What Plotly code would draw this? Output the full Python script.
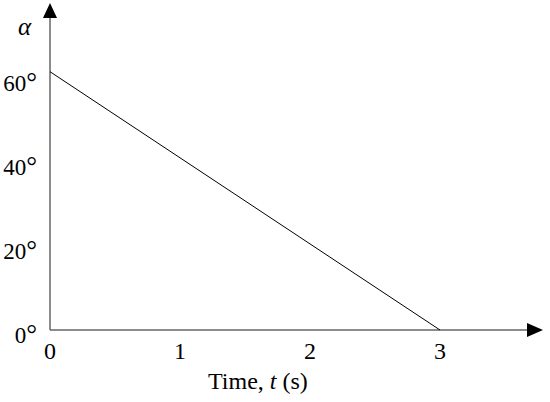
import plotly.graph_objects as go

# data
time_s = [0, 3]
alpha_deg = [61.5, 0]
x_tickvals = [0, 1, 2, 3]
x_ticktext = ["0", "1", "2", "3"]
y_tickvals = [0, 20, 40, 60]
DEG = "<span style='font-size:27px'>°</span>"
y_ticktext = ["0" + DEG, "20" + DEG, "40" + DEG, "60" + DEG]

W, H = 550, 402
L, R, T, B = 40, 2, 0, 62
pxx = 130.0   # pixels per second
pxy = 4.2     # pixels per degree
X0, Y0 = 50, 330  # pixel position of origin
xr = [(L - X0) / pxx, (W - R - X0) / pxx]
yr = [(Y0 - (H - B)) / pxy, (Y0 - T) / pxy]

FONT = "Liberation Serif"
axis_col = "#666666"

fig = go.Figure()
fig.add_trace(go.Scatter(x=time_s, y=alpha_deg, mode="lines",
                         line=dict(color="black", width=1), hoverinfo="skip",
                         showlegend=False))

# axes with arrows (decorations)
y_tip = (Y0 - 3) / pxy
y_base = (Y0 - 18) / pxy
x_tip = (543 - X0) / pxx
x_base = (527 - X0) / pxx
hw_x = 7 / pxx
hw_y = 7 / pxy
shapes = [
    dict(type="line", xref="x", yref="y", x0=0, y0=0, x1=0, y1=y_base,
         line=dict(color=axis_col, width=1.5), layer="below"),
    dict(type="line", xref="x", yref="y", x0=0, y0=0, x1=x_base, y1=0,
         line=dict(color=axis_col, width=1.5), layer="below"),
    dict(type="path", xref="x", yref="y",
         path=f"M {-hw_x} {y_base} L {hw_x} {y_base} L 0 {y_tip} Z",
         fillcolor="black", line=dict(color="black", width=0)),
    dict(type="path", xref="x", yref="y",
         path=f"M {x_base} {-hw_y} L {x_base} {hw_y} L {x_tip} 0 Z",
         fillcolor="black", line=dict(color="black", width=0)),
]

PW = W - L - R
PH = H - T - B

fig.update_layout(
    width=W, height=H,
    margin=dict(l=L, r=R, t=T, b=B, autoexpand=False),
    paper_bgcolor="white", plot_bgcolor="white",
    font=dict(family=FONT, size=23, color="black"),
    shapes=shapes,
    xaxis=dict(range=xr, showgrid=False, zeroline=False, showline=False,
               automargin=False, fixedrange=True,
               tickvals=x_tickvals, ticktext=x_ticktext, ticks="",
               ticklabelstandoff=-6, tickfont=dict(family=FONT, size=24)),
    yaxis=dict(range=yr, showgrid=False, zeroline=False, showline=False,
               automargin=False, fixedrange=True,
               tickvals=y_tickvals, ticktext=y_ticktext, ticks="",
               ticklabelstandoff=2, ticklabelshift=5,
               tickfont=dict(family=FONT, size=23)),
    annotations=[
        dict(text="Time, <i>t</i> (s)", xref="paper", yref="paper",
             x=(258 - L) / PW, y=1 - (381 - T) / PH,
             xanchor="center", yanchor="middle", showarrow=False,
             font=dict(family=FONT, size=24)),
        dict(text="<i>α</i>", xref="paper", yref="paper",
             x=(25 - L) / PW, y=1 - (27 - T) / PH,
             xanchor="center", yanchor="middle", showarrow=False,
             font=dict(family=FONT, size=25)),
    ],
)

fig.write_html("out.html", config={"displayModeBar": False},
               post_script="document.body.style.margin='0';document.body.style.overflow='hidden';")
